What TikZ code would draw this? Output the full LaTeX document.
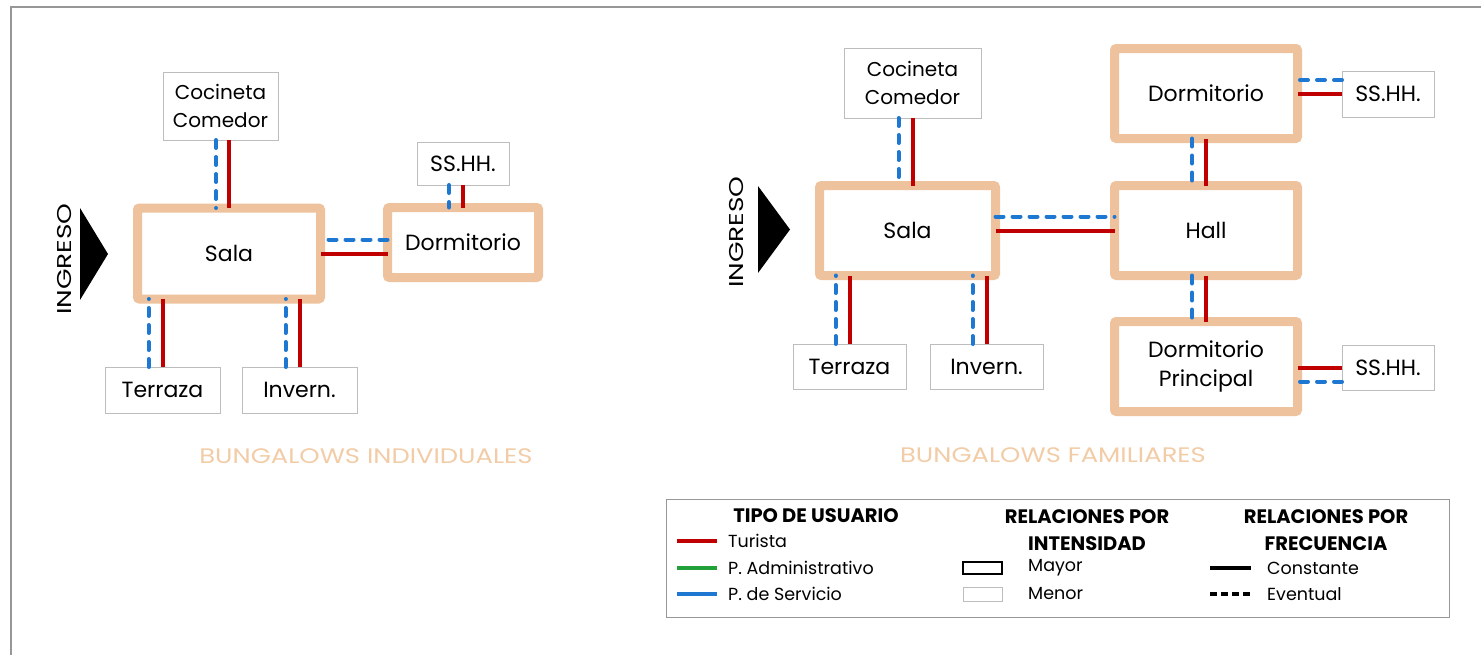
\documentclass[tikz,border=0pt]{standalone}
\usepackage{fontspec}
\setmainfont{Poppins}
\usetikzlibrary{calc}
\definecolor{durazno}{HTML}{EEC29C}
\definecolor{titulo}{HTML}{F2CCA6}
\definecolor{rojo}{HTML}{C00000}
\definecolor{azul}{HTML}{1E78D2}
\definecolor{verde}{HTML}{22A03A}
\definecolor{gris}{HTML}{BDBDBD}

\tikzset{
  mayor/.style={draw=durazno, line width=9pt, fill=white, rounded corners=2pt,
    outer sep=0pt, inner sep=0pt, align=center, font=\fontsize{22}{29}\selectfont},
  menor/.style={draw=gris, line width=0.9pt, fill=white, outer sep=0pt,
    inner sep=0pt, align=center, font=\fontsize{22}{29}\selectfont},
  cocina/.style={menor, font=\fontsize{20}{28}\selectfont},
  turista/.style={draw=rojo, line width=4pt},
  servicio/.style={draw=azul, line width=4pt, line cap=round, dash pattern=on 8pt off 9pt},
  ingreso/.style={rotate=90, font=\fontsize{20}{24}\selectfont, inner sep=0pt},
  rotulo/.style={text=titulo, font=\fontsize{21}{24}\selectfont, inner sep=0pt},
  leyenda/.style={font=\fontsize{17.5}{20}\selectfont, inner sep=0pt, anchor=west},
  leytitulo/.style={font=\bfseries\fontsize{19.5}{27}\selectfont, inner sep=0pt, align=center}
}

\begin{document}
\begin{tikzpicture}[x=1pt, y=-1pt]
\useasboundingbox (0,0) rectangle (1481,654);
% marco
\draw[gris!80!black, line width=1.5pt] (11,660) -- (11,7) -- (1490,7);

%%% bungalows individuales
\node[mayor, minimum width=183, minimum height=91] (sala1) at (229,253.5) {Sala};
\node[mayor, minimum width=151, minimum height=70] (dorm1) at (463,242.5) {Dormitorio};
\node[cocina, minimum width=115, minimum height=68] (coc1) at (220.5,106)
  {Cocineta\\Comedor};
\node[menor, minimum width=92, minimum height=43] (ss1) at (463,163.5) {SS.HH.};
\node[menor, minimum width=115, minimum height=46] (terr1) at (162.5,390) {Terraza};
\node[menor, minimum width=115, minimum height=46] (inv1) at (299.5,390) {Invern.};

\draw[servicio] ([xshift=-13pt]coc1.south -| sala1.center) -- ([xshift=-13pt]sala1.north);
\draw[turista] (coc1.south -| sala1.center) -- (sala1.north);
\draw[servicio] ([xshift=-14pt]ss1.south) -- ([xshift=-14pt]ss1.south |- dorm1.north);
\draw[turista] (ss1.south) -- (ss1.south |- dorm1.north);
\draw[servicio] ([yshift=3pt]dorm1.west) -- ([yshift=3pt]dorm1.west -| sala1.east);
\draw[turista] ([yshift=-11pt]dorm1.west) -- ([yshift=-11pt]dorm1.west -| sala1.east);
\draw[servicio] ([xshift=-14pt]terr1.north) -- ([xshift=-14pt]terr1.north |- sala1.south);
\draw[turista] (terr1.north) -- (terr1.north |- sala1.south);
\draw[servicio] ([xshift=-14pt]inv1.north) -- ([xshift=-14pt]inv1.north |- sala1.south);
\draw[turista] (inv1.north) -- (inv1.north |- sala1.south);

\fill (80,208) -- (108,254) -- (80,300) -- cycle;
\node[ingreso] (ing1) at (65,259) {\scalebox{1.32}[1]{INGRESO}};
\node[rotulo] (tit1) at (366,456) {\scalebox{1.23}[1]{BUNGALOWS INDIVIDUALES}};

%%% bungalows familiares
\node[mayor, minimum width=176, minimum height=90] (sala2) at (907.5,230.5) {Sala};
\node[mayor, minimum width=183, minimum height=90] (hall) at (1206,230.5) {Hall};
\node[mayor, minimum width=183, minimum height=90] (dorm2) at (1206,93.5) {Dormitorio};
\node[mayor, minimum width=183, minimum height=90] (dormp) at (1206,366.5) {Dormitorio\\Principal};
\node[cocina, minimum width=137, minimum height=70] (coc2) at (912.5,83)
  {Cocineta\\Comedor};
\node[menor, minimum width=92, minimum height=46] (ss2) at (1388,94) {SS.HH.};
\node[menor, minimum width=92, minimum height=45] (ss3) at (1388,367.5) {SS.HH.};
\node[menor, minimum width=113, minimum height=45] (terr2) at (849.5,366.5) {Terraza};
\node[menor, minimum width=113, minimum height=45] (inv2) at (986.5,366.5) {Invern.};

\draw[servicio] ([xshift=-14pt]coc2.south) -- ([xshift=-14pt]coc2.south |- sala2.north);
\draw[turista] (coc2.south) -- (coc2.south |- sala2.north);
\draw[servicio] ([xshift=-14pt]terr2.north) -- ([xshift=-14pt]terr2.north |- sala2.south);
\draw[turista] (terr2.north) -- (terr2.north |- sala2.south);
\draw[servicio] ([xshift=-14pt]inv2.north) -- ([xshift=-14pt]inv2.north |- sala2.south);
\draw[turista] (inv2.north) -- (inv2.north |- sala2.south);
\draw[servicio] ([yshift=14pt]sala2.east) -- ([yshift=14pt]sala2.east -| hall.west);
\draw[turista] (sala2.east) -- (hall.west);
\draw[servicio] ([xshift=-14pt]dorm2.south) -- ([xshift=-14pt]hall.north);
\draw[turista] (dorm2.south) -- (hall.north);
\draw[servicio] ([xshift=-14pt]hall.south) -- ([xshift=-14pt]dormp.north);
\draw[turista] (hall.south) -- (dormp.north);
\draw[servicio] ([yshift=14pt]ss2.west) -- ([yshift=14pt]ss2.west -| dorm2.east);
\draw[turista] (ss2.west) -- (ss2.west -| dorm2.east);
\draw[servicio] ([yshift=-14pt]ss3.west) -- ([yshift=-14pt]ss3.west -| dormp.east);
\draw[turista] (ss3.west) -- (ss3.west -| dormp.east);

\fill (758,186) -- (790,229.5) -- (758,273) -- cycle;
\node[ingreso] (ing2) at (737,232) {\scalebox{1.32}[1]{INGRESO}};
\node[rotulo] (tit2) at (1053,455) {\scalebox{1.23}[1]{BUNGALOWS FAMILIARES}};

%%% leyenda
\node[draw=gris!80!black, line width=0.9pt, minimum width=783, minimum height=118,
  inner sep=0pt] (ley) at (1057.5,558) {};
\node[leytitulo] (leyTipo) at (816,516) {TIPO DE USUARIO};
\node[leytitulo] (leyInt) at (1087,530) {RELACIONES POR\\INTENSIDAD};
\node[leytitulo] (leyFrec) at (1326,530) {RELACIONES POR\\FRECUENCIA};

\node[leyenda] (leyTur) at (728,541) {Turista};
\node[leyenda] (leyAdm) at (728,568) {P. Administrativo};
\node[leyenda] (leySer) at (728,594) {P. de Servicio};
\draw[rojo, line width=4pt] ([xshift=-51pt]leyTur.west) -- ([xshift=-11pt]leyTur.west);
\draw[verde, line width=4pt] ([xshift=-51pt]leyAdm.west) -- ([xshift=-11pt]leyAdm.west);
\draw[azul, line width=4pt] ([xshift=-51pt]leySer.west) -- ([xshift=-11pt]leySer.west);

\node[leyenda] (leyMay) at (1028,568) {Mayor};
\node[leyenda] (leyMen) at (1028,594) {Menor};
\draw[line width=2.2pt] ([xshift=-65pt,yshift=6pt]leyMay.west) rectangle ([xshift=-26pt,yshift=-6pt]leyMay.west);
\draw[gris, line width=0.8pt] ([xshift=-65pt,yshift=7pt]leyMen.west) rectangle ([xshift=-26pt,yshift=-7pt]leyMen.west);

\node[leyenda] (leyCon) at (1267,568) {Constante};
\node[leyenda] (leyEve) at (1267,594) {Eventual};
\draw[line width=4pt] ([xshift=-57pt]leyCon.west) -- ([xshift=-16pt]leyCon.west);
\draw[line width=4pt, dash pattern=on 7pt off 4pt] ([xshift=-57pt]leyEve.west) -- ([xshift=-16pt]leyEve.west);
\end{tikzpicture}
\end{document}
